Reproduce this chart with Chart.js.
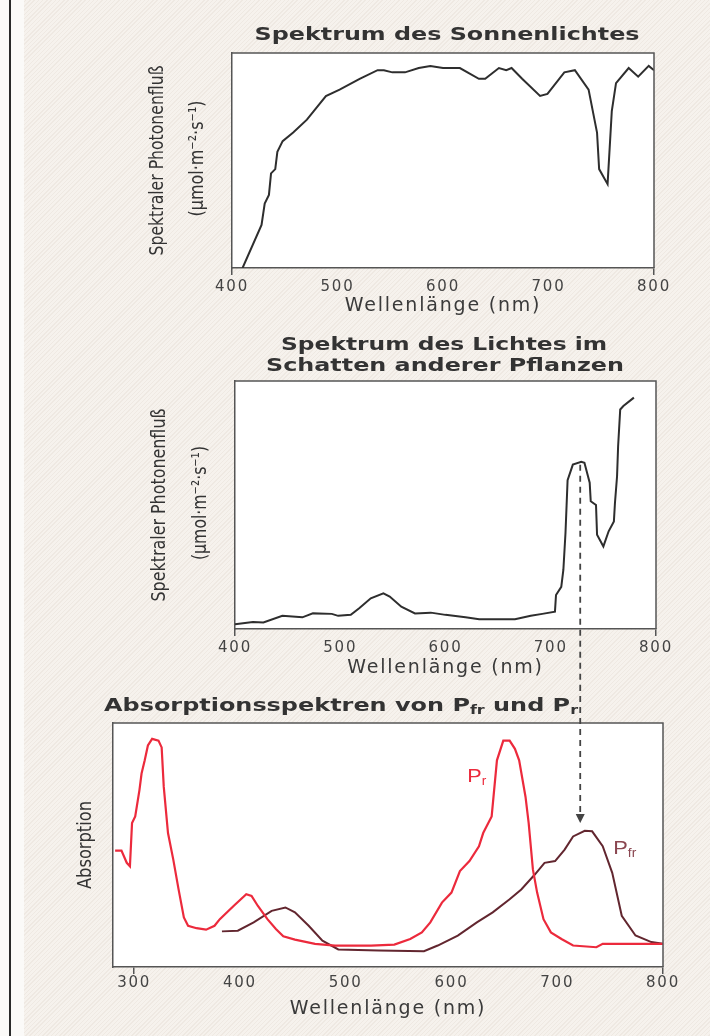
<!DOCTYPE html>
<html>
<head>
<meta charset="utf-8">
<script src="https://cdn.jsdelivr.net/npm/chart.js@4.4.1/dist/chart.umd.min.js"></script>
<style>
html,body{margin:0;padding:0;}
body{width:710px;height:1036px;position:relative;overflow:hidden;background:#f6f2ed;
  background-image:repeating-linear-gradient(135deg, rgba(200,185,170,0.16) 0 1px, rgba(255,255,255,0) 1px 3px);}
#edge{position:absolute;left:0;top:0;width:24px;height:1036px;background:#fbfaf8;}
#rule{position:absolute;left:9px;top:0;width:2px;height:1036px;background:#2a2a2a;}
canvas{position:absolute;left:0;}
</style>
</head>
<body>
<div id="edge"></div><div id="rule"></div>
<canvas id="c1" width="710" height="320" style="top:0px"></canvas>
<canvas id="c2" width="710" height="365" style="top:320px"></canvas>
<canvas id="c3" width="710" height="340" style="top:685px"></canvas>
<script>
// ---------- data ----------
const sunWavelengths = [410,428,431,435,437,441,443,448,458,471,489,502,521,538,544,552,564,577,588,600,616,634,640,653,660,665,675,692,699,715,725,738,746,748,756,758,760,764,776,785,795,800];
const sunFlux        = [0,20,30,34,44,46,54,59,63,69,80,83,88,92,92,91,91,93,94,93,93,88,88,93,92,93,88,80,81,91,92,83,63,46,39,56,73,86,93,89,94,92];

const shadeWavelengths = [400,417,427,445,464,474,492,498,510,518,529,541,547,558,571,586,600,619,632,666,681,692,704,705,710,712,714,716,721,729,732,737,738,743,744,750,755,760,761,763,764,766,769,779];
const shadeFlux        = [1.9,2.8,2.6,5.3,4.7,6.3,6.1,5.3,5.7,8.4,12.4,14.4,13.1,9,6.3,6.6,5.7,4.7,3.9,3.9,5.3,6.1,7,13.7,17,23.9,38.7,60,66.3,67.4,67,59,51.5,50,38,33.3,39.4,43.4,50.8,61.6,73.7,88.5,89.9,93.3];

const prWavelengths = [282,288,293,296,298,301,305,307,310,313,317,323,326,328,332,337,342,347,351,359,368,376,381,394,406,411,417,426,434,441,452,471,490,524,546,561,572,580,591,600,608,617,626,630,638,643,649,655,660,664,670,673,677,681,687,694,704,715,737,743,800];
const prAbsorption  = [47.7,47.7,42.7,41.3,59,61.7,72.5,79.3,84.7,90.8,93.5,92.8,90,73.8,54.9,44,31.8,20.3,16.9,15.9,15.3,16.9,19.6,25,29.8,29.1,25,19.6,15.6,12.6,11.2,9.5,8.8,8.8,9.2,11.5,14.2,18.3,26.4,30.5,39.3,43.4,49.5,54.9,61.7,84.7,92.8,92.8,89.4,84.7,69.8,59,40,30.5,19.6,14.2,11.5,8.8,8.1,9.5,9.5];

const pfrWavelengths = [383,398,413,430,443,452,465,478,493,531,574,587,606,624,639,655,666,679,688,698,707,715,726,733,743,752,761,774,789,800];
const pfrAbsorption  = [14.6,14.9,18.3,23,24.4,22.4,16.9,10.8,7.2,6.8,6.5,8.8,12.9,18.3,22.4,27.8,31.8,38,42.7,43.4,48.1,53.5,55.8,55.6,49.5,38.6,21,12.9,10.2,9.5];

const xTicksSpectrum   = [400,500,600,700,800];
const xTicksAbsorption = [300,400,500,600,700,800];

const farRedWavelength = 728;   // dashed marker
const shadePeakValue   = 67.4;  // where marker starts in the shade spectrum
const arrowTipValue    = 59;    // where the arrow ends above the Pfr peak

// ---------- styling helpers ----------
const AXIS = '#555';
const TEXT = '#333';
const toPoints = (xs, ys) => xs.map((x, i) => ({x, y: ys[i]}));

// draws a row of text segments, stretched horizontally to a target width
function fittedRow(ctx, segs, x, y, target, color) {
  ctx.save();
  ctx.letterSpacing = '0px';
  ctx.fillStyle = color; ctx.textBaseline = 'middle'; ctx.textAlign = 'left';
  let w = 0;
  segs.forEach(s => { ctx.font = s.font; s.w = ctx.measureText(s.t).width; w += s.w; });
  ctx.translate(x, y); ctx.scale(target / w, 1);
  let cx = 0;
  segs.forEach(s => { ctx.font = s.font; ctx.fillText(s.t, cx, s.dy || 0); cx += s.w; });
  ctx.restore();
}
const TITLE_FONT = 'bold 18px "DejaVu Sans"';
function centeredTitle(ctx, text, cx, cy, target) {
  fittedRow(ctx, [{t: text, font: TITLE_FONT}], cx - target / 2, cy, target, TEXT);
}
function vText(ctx, text, cx, cy, len) {
  ctx.save();
  ctx.letterSpacing = '0px';
  ctx.font = '20px "Liberation Sans Narrow", "DejaVu Sans Condensed", "Liberation Sans", sans-serif';
  const w = ctx.measureText(text).width;
  ctx.translate(cx, cy); ctx.rotate(-Math.PI / 2); ctx.scale(len / w, 1);
  ctx.fillStyle = TEXT; ctx.textAlign = 'center'; ctx.textBaseline = 'middle';
  ctx.fillText(text, 0, 0);
  ctx.restore();
}

function framePlugin(extra) {
  return {
    id: 'frame',
    beforeDraw(chart) {
      const {ctx, chartArea: a} = chart;
      ctx.save(); ctx.fillStyle = '#fff';
      ctx.fillRect(a.left, a.top, a.right - a.left, a.bottom - a.top);
      ctx.restore();
      ctx.letterSpacing = '1.8px';
    },
    afterDraw(chart) {
      const {ctx, chartArea: a} = chart;
      ctx.letterSpacing = '0px';
      ctx.save(); ctx.strokeStyle = AXIS; ctx.lineWidth = 1.5;
      ctx.beginPath(); ctx.moveTo(a.left, a.top); ctx.lineTo(a.right, a.top); ctx.lineTo(a.right, a.bottom); ctx.stroke();
      ctx.restore();
      extra(chart);
    }
  };
}

function options(c) {
  const tks = c.ticks;
  return {
    responsive: false, animation: false, events: [],
    layout: {padding: {left: 0, right: c.padRight, top: c.padTop, bottom: 0}},
    plugins: {legend: {display: false}, tooltip: {enabled: false}, title: {display: false}},
    scales: {
      x: {
        type: 'linear', min: c.xmin, max: c.xmax,
        afterFit: s => { s.height = c.xh; },
        afterBuildTicks: s => { s.ticks = tks.map(v => ({value: v})); },
        ticks: {color: '#444', font: {family: 'DejaVu Sans', size: 15}, padding: c.tickPad, maxRotation: 0, autoSkip: false},
        grid: {display: true, drawOnChartArea: false, drawTicks: true, tickLength: 7, lineWidth: 1.5,
               color: g => (g.tick && (g.tick.value === tks[0] || g.tick.value === tks[tks.length - 1])) ? AXIS : 'rgba(0,0,0,0)'},
        border: {display: true, color: AXIS, width: 1.5},
        title: {display: true, text: 'Wellenlänge (nm)', color: '#3a3a3a', font: {family: 'DejaVu Sans', size: 19}, padding: {top: 0, bottom: c.titlePad}}
      },
      y: {
        min: 0, max: 100,
        afterFit: s => { s.width = c.yw; },
        ticks: {display: false}, grid: {display: false},
        border: {display: true, color: AXIS, width: 1.5},
        title: {display: false}
      }
    }
  };
}

const darkLine = {borderColor: '#2e2e2e', borderWidth: 2, pointRadius: 0, tension: 0, fill: false};

// ---------- chart 1: sunlight ----------
new Chart(document.getElementById('c1'), {
  type: 'line',
  data: {datasets: [Object.assign({label: 'Sonnenlicht', data: toPoints(sunWavelengths, sunFlux)}, darkLine)]},
  options: options({padRight: 56, padTop: 53, xh: 52, yw: 232, xmin: 400, xmax: 800, ticks: xTicksSpectrum, tickPad: 3, titlePad: 3}),
  plugins: [framePlugin(chart => {
    const ctx = chart.ctx, a = chart.chartArea, cy = (a.top + a.bottom) / 2;
    centeredTitle(ctx, 'Spektrum des Sonnenlichtes', 447, 35, 385);
    vText(ctx, 'Spektraler Photonenfluß', 158, cy, 190);
    vText(ctx, '(µmol·m⁻²·s⁻¹)', 198, cy - 2, 116);
  })]
});

// ---------- chart 2: shade ----------
let sharedDashX = null;
new Chart(document.getElementById('c2'), {
  type: 'line',
  data: {datasets: [Object.assign({label: 'Schatten', data: toPoints(shadeWavelengths, shadeFlux)}, darkLine)]},
  options: options({padRight: 54, padTop: 61, xh: 56, yw: 235, xmin: 400, xmax: 800, ticks: xTicksSpectrum, tickPad: 3, titlePad: 6}),
  plugins: [framePlugin(chart => {
    const ctx = chart.ctx, a = chart.chartArea, cy = (a.top + a.bottom) / 2;
    centeredTitle(ctx, 'Spektrum des Lichtes im', 444, 25, 326);
    centeredTitle(ctx, 'Schatten anderer Pflanzen', 445, 46, 358);
    vText(ctx, 'Spektraler Photonenfluß', 160, cy, 193);
    vText(ctx, '(µmol·m⁻²·s⁻¹)', 201, cy - 2, 114);
    const x = chart.scales.x.getPixelForValue(farRedWavelength);
    sharedDashX = x;
    const y0 = chart.scales.y.getPixelForValue(shadePeakValue);
    ctx.save(); ctx.strokeStyle = '#444'; ctx.lineWidth = 1.8; ctx.setLineDash([6, 5]);
    ctx.beginPath(); ctx.moveTo(x, y0 + 3); ctx.lineTo(x, chart.height); ctx.stroke(); ctx.restore();
  })]
});

// ---------- chart 3: absorption spectra ----------
new Chart(document.getElementById('c3'), {
  type: 'line',
  data: {datasets: [
    {label: 'Pr', data: toPoints(prWavelengths, prAbsorption), borderColor: '#ec2a3c', borderWidth: 2.2, pointRadius: 0, tension: 0, fill: false},
    {label: 'Pfr', data: toPoints(pfrWavelengths, pfrAbsorption), borderColor: '#62262f', borderWidth: 2, pointRadius: 0, tension: 0, fill: false}
  ]},
  options: options({padRight: 47, padTop: 38, xh: 58, yw: 113, xmin: 280, xmax: 800, ticks: xTicksAbsorption, tickPad: 0, titlePad: 5}),
  plugins: [framePlugin(chart => {
    const ctx = chart.ctx, a = chart.chartArea, cy = (a.top + a.bottom) / 2;
    const xs = chart.scales.x, ys = chart.scales.y;
    fittedRow(ctx, [
      {t: 'Absorptionsspektren von P', font: TITLE_FONT},
      {t: 'fr', font: 'bold 12px "DejaVu Sans"', dy: 5},
      {t: ' und P', font: TITLE_FONT},
      {t: 'r', font: 'bold 12px "DejaVu Sans"', dy: 5}
    ], 104, 21, 474, TEXT);
    vText(ctx, 'Absorption', 86, cy, 88);
    // curve labels
    fittedRow(ctx, [{t: 'P', font: '19px "Liberation Sans"'}, {t: 'r', font: '12px "Liberation Sans"', dy: 5}],
      xs.getPixelForValue(615), ys.getPixelForValue(78), 19, '#ec2a3c');
    fittedRow(ctx, [{t: 'P', font: '19px "Liberation Sans"'}, {t: 'fr', font: '12px "Liberation Sans"', dy: 5}],
      xs.getPixelForValue(753), ys.getPixelForValue(48.5), 23, '#8a4650');
    // dashed arrow
    const x = sharedDashX !== null ? sharedDashX : xs.getPixelForValue(farRedWavelength);
    const tip = ys.getPixelForValue(arrowTipValue);
    ctx.save(); ctx.strokeStyle = '#444'; ctx.fillStyle = '#444'; ctx.lineWidth = 1.8; ctx.setLineDash([6, 5]);
    ctx.beginPath(); ctx.moveTo(x, 0); ctx.lineTo(x, tip - 8); ctx.stroke();
    ctx.setLineDash([]);
    ctx.beginPath(); ctx.moveTo(x - 4.5, tip - 9); ctx.lineTo(x + 4.5, tip - 9); ctx.lineTo(x, tip); ctx.closePath(); ctx.fill();
    ctx.restore();
  })]
});
</script>
</body>
</html>
